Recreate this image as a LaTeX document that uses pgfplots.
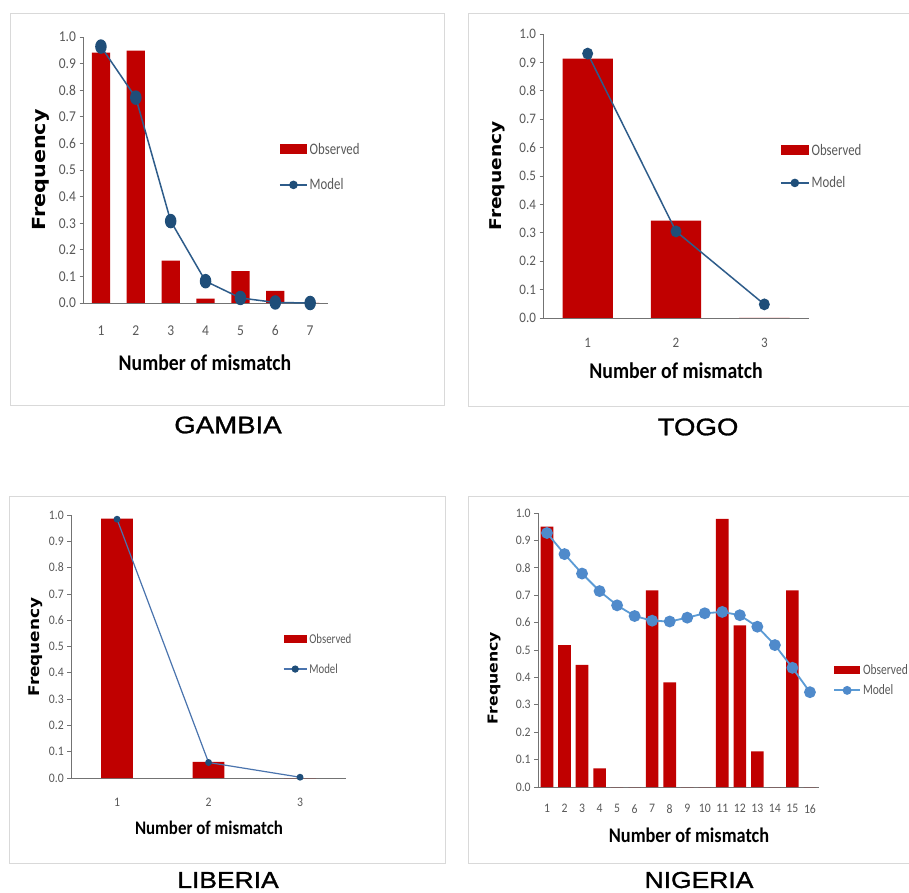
\documentclass[border=0pt]{standalone}
\usepackage{pgfplots}
\pgfplotsset{compat=1.18}
\usepackage{fontspec}
\setmainfont{Carlito}
\newfontfamily\tickf[FakeStretch=0.9]{Carlito}
\newfontfamily\legf[FakeStretch=0.8]{Carlito}
\newfontfamily\labf[FakeStretch=0.88]{Carlito}
\newfontfamily\freqf[FakeStretch=1.15]{DejaVu Sans}
\newfontfamily\titf[FakeStretch=1.15,FakeBold=1.2]{Liberation Sans}
\definecolor{barred}{HTML}{C00000}
\definecolor{navy}{HTML}{1F4E79}
\definecolor{navyline}{HTML}{2E5C8A}
\definecolor{libline}{HTML}{4A74AE}
\definecolor{lblue}{HTML}{5B9BD5}
\definecolor{lbluem}{HTML}{4F8ACB}
\definecolor{boxgray}{HTML}{D9D9D9}
\definecolor{tickgray}{HTML}{595959}
\pgfplotsset{
  panel/.style={
    scale only axis, clip=false,
    ymin=0, ymax=1,
    ytick={0,0.1,0.2,0.3,0.4,0.5,0.6,0.7,0.8,0.9,1.0},
    axis x line=bottom, axis y line=left,
    axis line style={-, black!55, line width=0.8pt},
    tick align=outside, major tick length=4pt,
    ytick style={black!55, line width=0.8pt},
    major x tick style={draw=none},
    /pgf/number format/assume math mode=true,
    yticklabel style={/pgf/number format/.cd, fixed, fixed zerofill, precision=1},
    tick label style={color=tickgray},
    legend cell align=left,
  },
  leg/.style={legend style={draw=none, fill=none, inner sep=0pt, text=tickgray,
     nodes={inner sep=1pt}, /tikz/every odd column/.append style={column sep=1pt}}},
}
\begin{document}
\begin{tikzpicture}
\clip (0,0) rectangle (909pt,892pt);
\fill[white] (0,0) rectangle (909pt,892pt);
\draw[boxgray, line width=1pt] (10pt,486pt) rectangle (444pt,878pt);
\draw[boxgray, line width=1pt] (468pt,485pt) rectangle (915pt,878pt);
\draw[boxgray, line width=1pt] (9pt,29pt) rectangle (445pt,395pt);
\draw[boxgray, line width=1pt] (468pt,29pt) rectangle (915pt,395pt);

% GAMBIA
\begin{axis}[panel, leg, at={(83.5pt,589pt)}, anchor=south west, width=244.1pt, height=266pt,
  xmin=0.5, xmax=7.5, xtick={1,2,3,4,5,6,7},
  tick label style={font=\tickf\fontsize{15}{15}\selectfont},
  xticklabel style={yshift=-15pt},
  legend style={at={(0.801,0.511)}, anchor=west, row sep=21pt, font=\legf\fontsize{16}{16}\selectfont}]
\addplot[ybar, bar width=0.525, fill=barred, draw=none,
  legend image code/.code={\fill[barred] (0pt,-5pt) rectangle (27pt,5pt);}]
  coordinates {(1,0.941)(2,0.949)(3,0.159)(4,0.016)(5,0.12)(6,0.046)(7,0)};
\addlegendentry{Observed}
\addplot[navyline, line width=1.5pt, mark=*, mark size=5pt, mark options={fill=navy, draw=navy, yscale=1.3},
  legend image code/.code={\draw[navyline, line width=1.5pt] (0pt,0pt) -- (27pt,0pt); \fill[navy] (13.5pt,0pt) circle (3.5pt);}]
  coordinates {(1,0.964)(2,0.772)(3,0.308)(4,0.082)(5,0.019)(6,0.002)(7,0)};
\addlegendentry{Model}
\end{axis}
\node[rotate=90, font=\freqf\bfseries\fontsize{18}{18}\selectfont] at (41pt,722pt) {Frequency};
\node[font=\labf\bfseries\fontsize{22.4}{22}\selectfont] at (205pt,529pt) {Number of mismatch};
\node[font=\titf\fontsize{24}{24}\selectfont] at (228pt,467pt) {GAMBIA};

% TOGO
\begin{axis}[panel, leg, at={(543.5pt,574pt)}, anchor=south west, width=265pt, height=284pt,
  xmin=0.5, xmax=3.5, xtick={1,2,3},
  tick label style={font=\tickf\fontsize{14.5}{14.5}\selectfont},
  xticklabel style={yshift=-12.6pt},
  legend style={at={(0.892,0.533)}, anchor=west, row sep=18pt, font=\legf\fontsize{16}{16}\selectfont}]
\addplot[ybar, bar width=0.57, fill=barred, draw=none,
  legend image code/.code={\fill[barred] (0pt,-5pt) rectangle (28pt,5pt);}]
  coordinates {(1,0.913)(2,0.343)(3,0)};
\addlegendentry{Observed}
\addplot[navyline, line width=1.5pt, mark=*, mark size=4.7pt, mark options={fill=navy, draw=navy, yscale=1.1},
  legend image code/.code={\draw[navyline, line width=1.5pt] (0pt,0pt) -- (28pt,0pt); \fill[navy] (14pt,0pt) circle (3.5pt);}]
  coordinates {(1,0.931)(2,0.305)(3,0.048)};
\addlegendentry{Model}
\end{axis}
\node[rotate=90, font=\freqf\bfseries\fontsize{16.2}{16}\selectfont] at (497pt,716pt) {Frequency};
\node[font=\labf\bfseries\fontsize{22.5}{22}\selectfont] at (676pt,521pt) {Number of mismatch};
\node[font=\titf\fontsize{24}{24}\selectfont] at (698pt,465pt) {TOGO};

% LIBERIA
\begin{axis}[panel, leg, at={(71.3pt,114pt)}, anchor=south west, width=274.5pt, height=263pt,
  xmin=0.5, xmax=3.5, xtick={1,2,3},
  tick label style={font=\tickf\fontsize{13}{13}\selectfont},
  xticklabel style={yshift=-12.5pt},
  legend style={at={(0.771,0.471)}, anchor=west, row sep=17pt, font=\legf\fontsize{13.5}{13.5}\selectfont}]
\addplot[ybar, bar width=0.346, fill=barred, draw=none,
  legend image code/.code={\fill[barred] (0pt,-4pt) rectangle (23pt,4pt);}]
  coordinates {(1,0.986)(2,0.061)(3,0)};
\addlegendentry{Observed}
\addplot[libline, line width=1.2pt, mark=*, mark size=2.8pt, mark options={fill=navy, draw=navy},
  legend image code/.code={\draw[libline, line width=1.2pt] (0pt,0pt) -- (23pt,0pt); \fill[navy] (11.5pt,0pt) circle (3pt);}]
  coordinates {(1,0.984)(2,0.059)(3,0.003)};
\addlegendentry{Model}
\end{axis}
\node[rotate=90, font=\freqf\bfseries\fontsize{14.7}{15}\selectfont] at (36pt,245pt) {Frequency};
\node[font=\labf\bfseries\fontsize{19.2}{19}\selectfont] at (209pt,64pt) {Number of mismatch};
\node[font=\titf\fontsize{23}{23}\selectfont] at (228pt,12pt) {LIBERIA};

% NIGERIA
\begin{axis}[panel, leg, at={(538.2pt,105pt)}, anchor=south west, width=280.5pt, height=274pt,
  xmin=0.5, xmax=16.5, xtick={1,2,3,4,5,6,7,8,9,10,11,12,13,14,15,16},
  tick label style={font=\tickf\fontsize{13}{13}\selectfont},
  xticklabel style={yshift=-9.7pt},
  legend style={at={(1.051,0.39)}, anchor=west, row sep=7pt, font=\legf\fontsize{14.4}{14.4}\selectfont}]
\addplot[ybar, bar width=0.72, fill=barred, draw=none,
  legend image code/.code={\fill[barred] (0pt,-4pt) rectangle (26pt,4pt);}]
  coordinates {(1,0.95)(2,0.518)(3,0.446)(4,0.068)(5,0)(6,0)(7,0.718)(8,0.382)(9,0)(10,0)(11,0.979)(12,0.59)(13,0.13)(14,0)(15,0.718)(16,0)};
\addlegendentry{Observed}
\addplot[lblue, line width=1.8pt, mark=*, mark size=5pt, mark options={fill=lbluem, draw=lbluem},
  legend image code/.code={\draw[lblue, line width=1.8pt] (0pt,0pt) -- (26pt,0pt); \fill[lbluem] (13pt,0pt) circle (3.5pt);}]
  coordinates {(1,0.927)(2,0.85)(3,0.779)(4,0.715)(5,0.663)(6,0.624)(7,0.607)(8,0.604)(9,0.618)(10,0.634)(11,0.639)(12,0.627)(13,0.585)(14,0.518)(15,0.435)(16,0.346)};
\addlegendentry{Model}
\end{axis}
\node[rotate=90, font=\freqf\bfseries\fontsize{13.7}{14}\selectfont] at (494pt,214pt) {Frequency};
\node[font=\labf\bfseries\fontsize{20.8}{21}\selectfont] at (689pt,57pt) {Number of mismatch};
\node[font=\titf\fontsize{23}{23}\selectfont] at (699pt,12pt) {NIGERIA};
\end{tikzpicture}
\end{document}
